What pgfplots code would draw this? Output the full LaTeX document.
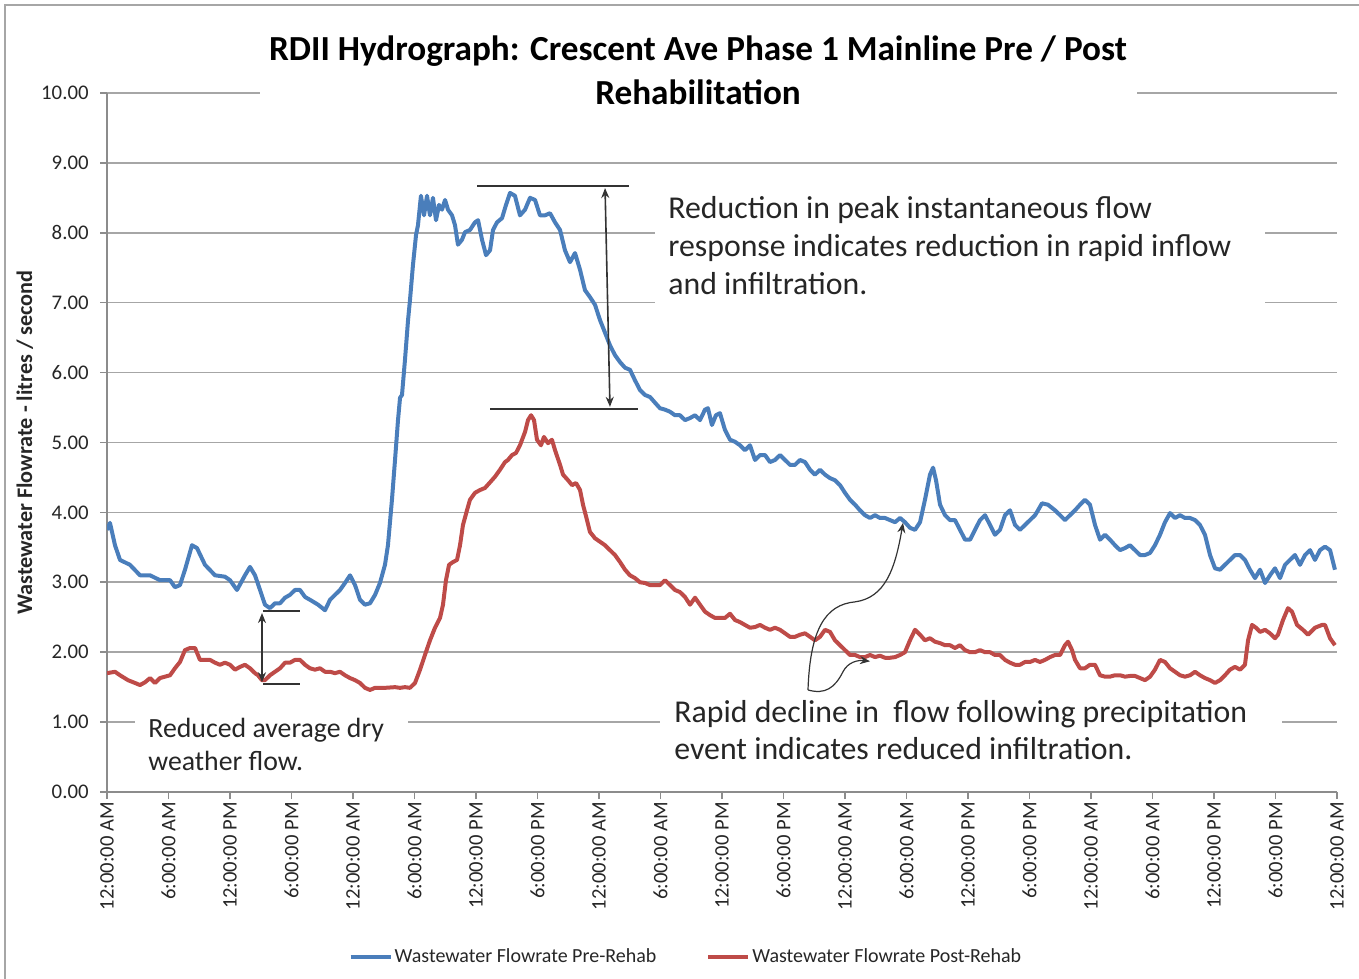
\documentclass[border=0pt]{standalone}
\usepackage{fontspec}
\setmainfont{Carlito}
\usepackage{pgfplots}
\pgfplotsset{compat=1.18}
\usepackage{pgfplotstable}
\usetikzlibrary{arrows.meta}
\definecolor{blueline}{HTML}{4A7EBB}
\definecolor{redline}{HTML}{BE4B48}
\definecolor{gridgray}{HTML}{A6A6A6}
\definecolor{axisgray}{HTML}{8C8C8C}
\definecolor{txt}{HTML}{262626}
\definecolor{annot}{HTML}{333333}

\pgfplotstableread{
t v
0 3.75
0.29 3.85
0.78 3.53
1.27 3.32
2.24 3.25
3.22 3.10
4.20 3.10
5.17 3.03
6.15 3.03
6.63 2.93
7.12 2.96
7.61 3.18
8.29 3.53
8.78 3.49
9.56 3.25
10.54 3.10
11.51 3.08
12.00 3.03
12.68 2.89
13.46 3.10
13.95 3.22
14.44 3.10
14.93 2.89
15.41 2.68
15.90 2.63
16.39 2.70
16.88 2.70
17.37 2.78
17.85 2.82
18.34 2.89
18.83 2.89
19.32 2.79
19.80 2.75
20.59 2.68
21.27 2.60
21.76 2.75
22.73 2.89
23.22 2.99
23.71 3.10
24.20 2.96
24.68 2.75
25.17 2.68
25.66 2.70
26.15 2.82
26.63 2.99
27.12 3.25
27.41 3.53
27.80 4.18
28.10 4.75
28.39 5.32
28.59 5.64
28.78 5.68
29.07 6.18
29.37 6.75
29.56 7.04
29.85 7.54
30.15 7.97
30.34 8.11
30.63 8.53
30.93 8.25
31.22 8.53
31.51 8.25
31.80 8.50
32.10 8.18
32.39 8.40
32.68 8.33
32.98 8.47
33.27 8.33
33.66 8.25
33.95 8.11
34.24 7.83
34.63 7.90
34.93 8.01
35.41 8.04
35.90 8.15
36.20 8.18
36.59 7.90
36.98 7.68
37.37 7.75
37.66 8.04
38.05 8.15
38.54 8.21
38.93 8.40
39.32 8.57
39.80 8.53
40.29 8.25
40.78 8.33
41.27 8.50
41.76 8.47
42.24 8.25
42.73 8.25
43.22 8.28
43.71 8.15
44.20 8.04
44.68 7.75
45.17 7.58
45.66 7.71
46.15 7.47
46.63 7.18
47.12 7.08
47.61 6.97
48.10 6.75
48.59 6.57
49.07 6.39
49.56 6.25
50.05 6.15
50.54 6.07
51.02 6.04
51.51 5.89
52.00 5.75
52.49 5.68
52.98 5.65
53.46 5.57
53.95 5.49
54.44 5.47
54.93 5.44
55.41 5.39
55.90 5.39
56.39 5.32
56.88 5.35
57.37 5.39
57.85 5.32
58.34 5.47
58.63 5.49
59.02 5.25
59.41 5.39
59.80 5.42
60.29 5.18
60.78 5.04
61.27 5.01
61.76 4.96
62.24 4.89
62.73 4.96
63.22 4.75
63.71 4.82
64.20 4.82
64.68 4.72
65.17 4.75
65.66 4.82
66.15 4.75
66.63 4.68
67.12 4.68
67.61 4.75
68.10 4.72
68.59 4.61
69.07 4.54
69.56 4.61
70.05 4.54
70.54 4.49
71.02 4.46
71.51 4.39
72.00 4.28
72.49 4.18
72.98 4.11
73.46 4.03
73.95 3.96
74.44 3.92
74.93 3.96
75.41 3.92
75.90 3.92
76.39 3.89
76.88 3.86
77.37 3.92
77.85 3.86
78.34 3.78
78.83 3.75
79.32 3.86
79.80 4.18
80.29 4.54
80.59 4.64
80.88 4.46
81.27 4.11
81.76 3.96
82.24 3.89
82.73 3.89
83.22 3.75
83.71 3.61
84.20 3.61
84.68 3.75
85.17 3.89
85.66 3.96
86.15 3.82
86.63 3.68
87.12 3.75
87.61 3.96
88.10 4.03
88.59 3.82
89.07 3.75
89.56 3.82
90.05 3.89
90.54 3.96
90.83 4.03
91.22 4.13
91.80 4.11
92.49 4.03
92.98 3.96
93.46 3.89
93.95 3.96
94.44 4.03
94.93 4.11
95.41 4.18
95.90 4.11
96.39 3.82
96.88 3.61
97.37 3.68
97.85 3.61
98.34 3.53
98.83 3.46
99.32 3.49
99.80 3.53
100.29 3.46
100.78 3.39
101.27 3.39
101.76 3.42
102.24 3.53
102.73 3.68
103.22 3.86
103.71 3.99
104.20 3.92
104.68 3.96
105.17 3.92
105.66 3.92
106.15 3.89
106.63 3.82
107.12 3.68
107.61 3.39
108.10 3.20
108.59 3.18
109.07 3.25
109.56 3.32
110.05 3.39
110.54 3.39
111.02 3.32
111.51 3.18
112.00 3.06
112.49 3.18
112.98 2.99
113.46 3.10
113.95 3.20
114.44 3.06
114.93 3.25
115.41 3.32
115.90 3.39
116.39 3.25
116.88 3.39
117.37 3.46
117.85 3.32
118.34 3.46
118.83 3.51
119.32 3.46
119.80 3.18
}\pre

\pgfplotstableread{
t v
0 1.70
0.78 1.72
1.27 1.67
2.05 1.60
2.73 1.56
3.22 1.53
3.71 1.57
4.20 1.63
4.68 1.56
5.17 1.63
5.66 1.65
6.15 1.67
6.63 1.77
7.12 1.86
7.61 2.03
8.10 2.06
8.59 2.06
9.07 1.89
9.56 1.89
10.05 1.89
10.54 1.85
11.02 1.82
11.51 1.85
12.00 1.82
12.49 1.75
12.98 1.79
13.46 1.82
13.95 1.77
14.44 1.70
14.73 1.67
15.12 1.60
15.41 1.60
15.90 1.67
16.39 1.72
16.88 1.77
17.37 1.85
17.85 1.85
18.34 1.89
18.83 1.89
19.32 1.82
19.80 1.77
20.29 1.75
20.78 1.77
21.27 1.72
21.76 1.72
22.24 1.70
22.73 1.72
23.22 1.67
23.71 1.63
24.20 1.60
24.68 1.56
25.17 1.49
25.66 1.46
26.15 1.49
27.12 1.49
28.10 1.50
28.59 1.49
29.07 1.50
29.56 1.49
30.05 1.56
30.54 1.75
31.02 1.96
31.51 2.17
32.00 2.35
32.49 2.49
32.78 2.68
33.07 3.03
33.37 3.25
33.76 3.29
34.15 3.32
34.44 3.53
34.73 3.82
35.12 4.03
35.41 4.18
35.90 4.28
36.39 4.32
36.88 4.35
37.37 4.43
37.85 4.51
38.34 4.61
38.83 4.72
39.12 4.75
39.51 4.82
39.90 4.85
40.29 4.96
40.78 5.15
41.07 5.32
41.37 5.39
41.66 5.32
41.95 5.04
42.34 4.96
42.63 5.08
43.02 4.99
43.41 5.04
43.71 4.89
44.20 4.68
44.49 4.54
44.98 4.46
45.37 4.39
45.76 4.42
46.15 4.32
46.44 4.11
46.83 3.89
47.12 3.72
47.61 3.63
48.10 3.58
48.59 3.53
49.07 3.46
49.56 3.39
50.05 3.29
50.54 3.18
51.02 3.10
51.51 3.06
52.00 3.00
52.49 2.99
52.98 2.96
53.46 2.96
53.95 2.96
54.44 3.03
54.93 2.96
55.41 2.89
55.90 2.86
56.39 2.79
56.88 2.68
57.37 2.78
57.85 2.68
58.34 2.58
58.83 2.53
59.32 2.49
59.80 2.49
60.29 2.49
60.78 2.55
61.27 2.46
61.76 2.43
62.24 2.39
62.73 2.35
63.22 2.36
63.71 2.39
64.20 2.35
64.68 2.32
65.17 2.35
65.66 2.32
66.15 2.27
66.63 2.22
67.12 2.22
67.61 2.25
68.10 2.27
68.59 2.22
69.07 2.17
69.56 2.22
70.05 2.32
70.54 2.29
71.02 2.17
71.51 2.10
72.00 2.03
72.49 1.96
72.98 1.96
73.46 1.93
73.95 1.93
74.44 1.96
74.93 1.93
75.41 1.95
75.90 1.92
76.39 1.92
76.88 1.93
77.37 1.96
77.85 2.00
78.34 2.17
78.83 2.32
79.32 2.25
79.80 2.17
80.29 2.20
80.78 2.15
81.27 2.13
81.76 2.10
82.24 2.10
82.73 2.06
83.22 2.10
83.71 2.03
84.20 2.00
84.68 2.00
85.17 2.03
85.66 2.00
86.15 2.00
86.63 1.96
87.12 1.96
87.61 1.89
88.10 1.85
88.59 1.82
89.07 1.82
89.56 1.86
90.05 1.86
90.54 1.89
91.02 1.86
91.51 1.89
92.00 1.93
92.49 1.96
92.98 1.96
93.46 2.10
93.76 2.15
94.15 2.03
94.44 1.89
94.93 1.77
95.41 1.77
95.90 1.82
96.39 1.82
96.88 1.67
97.37 1.65
97.85 1.65
98.34 1.67
98.83 1.67
99.32 1.65
99.80 1.66
100.29 1.66
100.78 1.63
101.27 1.60
101.76 1.65
102.24 1.75
102.73 1.89
103.22 1.86
103.71 1.77
104.20 1.72
104.68 1.67
105.17 1.65
105.66 1.67
106.15 1.72
106.63 1.67
107.12 1.63
107.61 1.60
108.10 1.56
108.59 1.60
109.07 1.67
109.56 1.75
110.05 1.79
110.54 1.75
111.02 1.82
111.32 2.17
111.71 2.39
112.10 2.35
112.49 2.29
112.98 2.32
113.46 2.27
113.95 2.20
114.24 2.25
114.73 2.46
115.22 2.63
115.61 2.58
116.10 2.39
116.68 2.32
117.17 2.25
117.85 2.35
118.54 2.39
118.83 2.39
119.32 2.20
119.80 2.10
}\post

\begin{document}
\begin{tikzpicture}
\begin{axis}[
  at={(0,0)}, anchor=south west,
  scale only axis, width=615bp, height=349.5bp,
  xmin=0, xmax=120, ymin=0, ymax=10,
  axis x line=bottom, axis y line=left,
  axis line style={-, draw=axisgray, line width=0.8bp},
  clip mode=individual,
  ytick={0,1,...,10},
  xtick={0,6,...,120},
  xticklabels={12:00:00 AM,6:00:00 AM,12:00:00 PM,6:00:00 PM,12:00:00 AM,6:00:00 AM,12:00:00 PM,6:00:00 PM,12:00:00 AM,6:00:00 AM,12:00:00 PM,6:00:00 PM,12:00:00 AM,6:00:00 AM,12:00:00 PM,6:00:00 PM,12:00:00 AM,6:00:00 AM,12:00:00 PM,6:00:00 PM,12:00:00 AM},
  ymajorgrids,
  grid style={gridgray, line width=0.8bp},
  tick align=outside,
  major tick length=3.5bp,
  tick style={axisgray, line width=0.8bp},
  /pgf/number format/assume math mode=true,
  yticklabel={\pgfmathprintnumber[fixed,fixed zerofill,precision=2]{\tick}},
  yticklabel style={font=\fontsize{10.4bp}{12bp}\selectfont, text=txt, inner sep=2bp, xshift=-3.5bp},
  xticklabel style={font=\fontsize{10.3bp}{12bp}\selectfont, text=txt, rotate=90, anchor=east, inner sep=1.5bp},
  ylabel={Wastewater Flowrate - litres / second},
  ylabel style={font=\bfseries\fontsize{11.1bp}{13bp}\selectfont, text=txt, at={(axis description cs:-0.0667,0.5)}, anchor=center},
  legend style={at={(0.4707,-0.236)}, anchor=center, draw=none, fill=none,
    legend columns=2, font=\fontsize{10bp}{12bp}\selectfont, text=txt,
    /tikz/every even column/.append style={column sep=24bp},
    nodes={inner xsep=1bp}},
  legend image code/.code={\draw[#1] (0bp,0bp) -- (20bp,0bp);},
]
\addplot[blueline, line width=2bp, line join=round] table[x=t, y=v] {\pre};
\addlegendentry{Wastewater Flowrate Pre-Rehab}
\addplot[redline, line width=2bp, line join=round] table[x=t, y=v] {\post};
\addlegendentry{Wastewater Flowrate Post-Rehab}

% white boxes behind texts
\fill[white] (axis cs:14.93,9.9) rectangle (axis cs:100.49,10.1);
\fill[white] (axis cs:53.46,8.61) rectangle (axis cs:112.98,6.90);
\fill[white] (axis cs:53.95,1.32) rectangle (axis cs:114.63,0.31);
\fill[white] (axis cs:2.73,1.24) rectangle (axis cs:29.37,0.24);

% title
\node[align=center, text=black, font=\bfseries\fontsize{17.6bp}{22bp}\selectfont] at (axis cs:57.66,10.33)
  {RDII Hydrograph: Crescent Ave Phase 1 Mainline Pre / Post\\Rehabilitation};

% annotation texts
\node[anchor=north west, align=left, inner sep=0pt, text=txt, font=\fontsize{15.9bp}{19bp}\selectfont] at (axis cs:54.73,8.53)
  {Reduction in peak instantaneous flow\\response indicates reduction in rapid inflow\\and infiltration.};
\node[anchor=north west, align=left, inner sep=0pt, text=txt, font=\fontsize{15.9bp}{18.5bp}\selectfont] at (axis cs:55.32,1.31)
  {Rapid decline in\ \ flow following precipitation\\event indicates reduced infiltration.};
\node[anchor=north west, align=left, inner sep=0pt, text=txt, font=\fontsize{13.9bp}{16.5bp}\selectfont] at (axis cs:4.0,1.06)
  {Reduced average dry\\weather flow.};

% peak reduction marker
\draw[annot, line width=1bp] (axis cs:36.10,8.67) -- (axis cs:50.93,8.67);
\draw[annot, line width=1bp] (axis cs:37.37,5.48) -- (axis cs:51.80,5.48);
\draw[annot, line width=0.8bp, {Stealth[length=5bp,width=4bp]}-{Stealth[length=5bp,width=4bp]}] (axis cs:48.59,8.64) -- (axis cs:49.07,5.51);

% dry weather marker
\draw[annot, line width=0.8bp] (axis cs:15.22,2.59) -- (axis cs:18.83,2.59);
\draw[annot, line width=0.8bp] (axis cs:15.22,1.545) -- (axis cs:18.83,1.545);
\draw[annot, line width=0.8bp, {Stealth[length=5bp,width=4bp]}-{Stealth[length=5bp,width=4bp]}] (axis cs:15.12,2.56) -- (axis cs:15.12,1.57);

% curved arrows
\draw[annot, line width=0.6bp, -{Stealth[length=5bp,width=4bp]}] (axis cs:68.39,1.46) .. controls (axis cs:68.59,2.32) and (axis cs:70.05,2.68) .. (axis cs:72.98,2.72) .. controls (axis cs:75.90,2.78) and (axis cs:76.88,3.18) .. (axis cs:77.66,3.85);
\draw[annot, line width=0.6bp, -{Stealth[length=5bp,width=4bp]}] (axis cs:68.39,1.46) .. controls (axis cs:70.05,1.39) and (axis cs:71.02,1.49) .. (axis cs:71.80,1.72) .. controls (axis cs:72.29,1.86) and (axis cs:73.27,1.89) .. (axis cs:74.44,1.87);
\end{axis}
\draw[color=gray!70, line width=1bp] (-51bp,-93.5bp) -- (-51bp,393.5bp) -- (626bp,393.5bp);
\pgfresetboundingbox
\path (-53.5bp,-93.5bp) rectangle (626bp,396bp);
\end{tikzpicture}
\end{document}
